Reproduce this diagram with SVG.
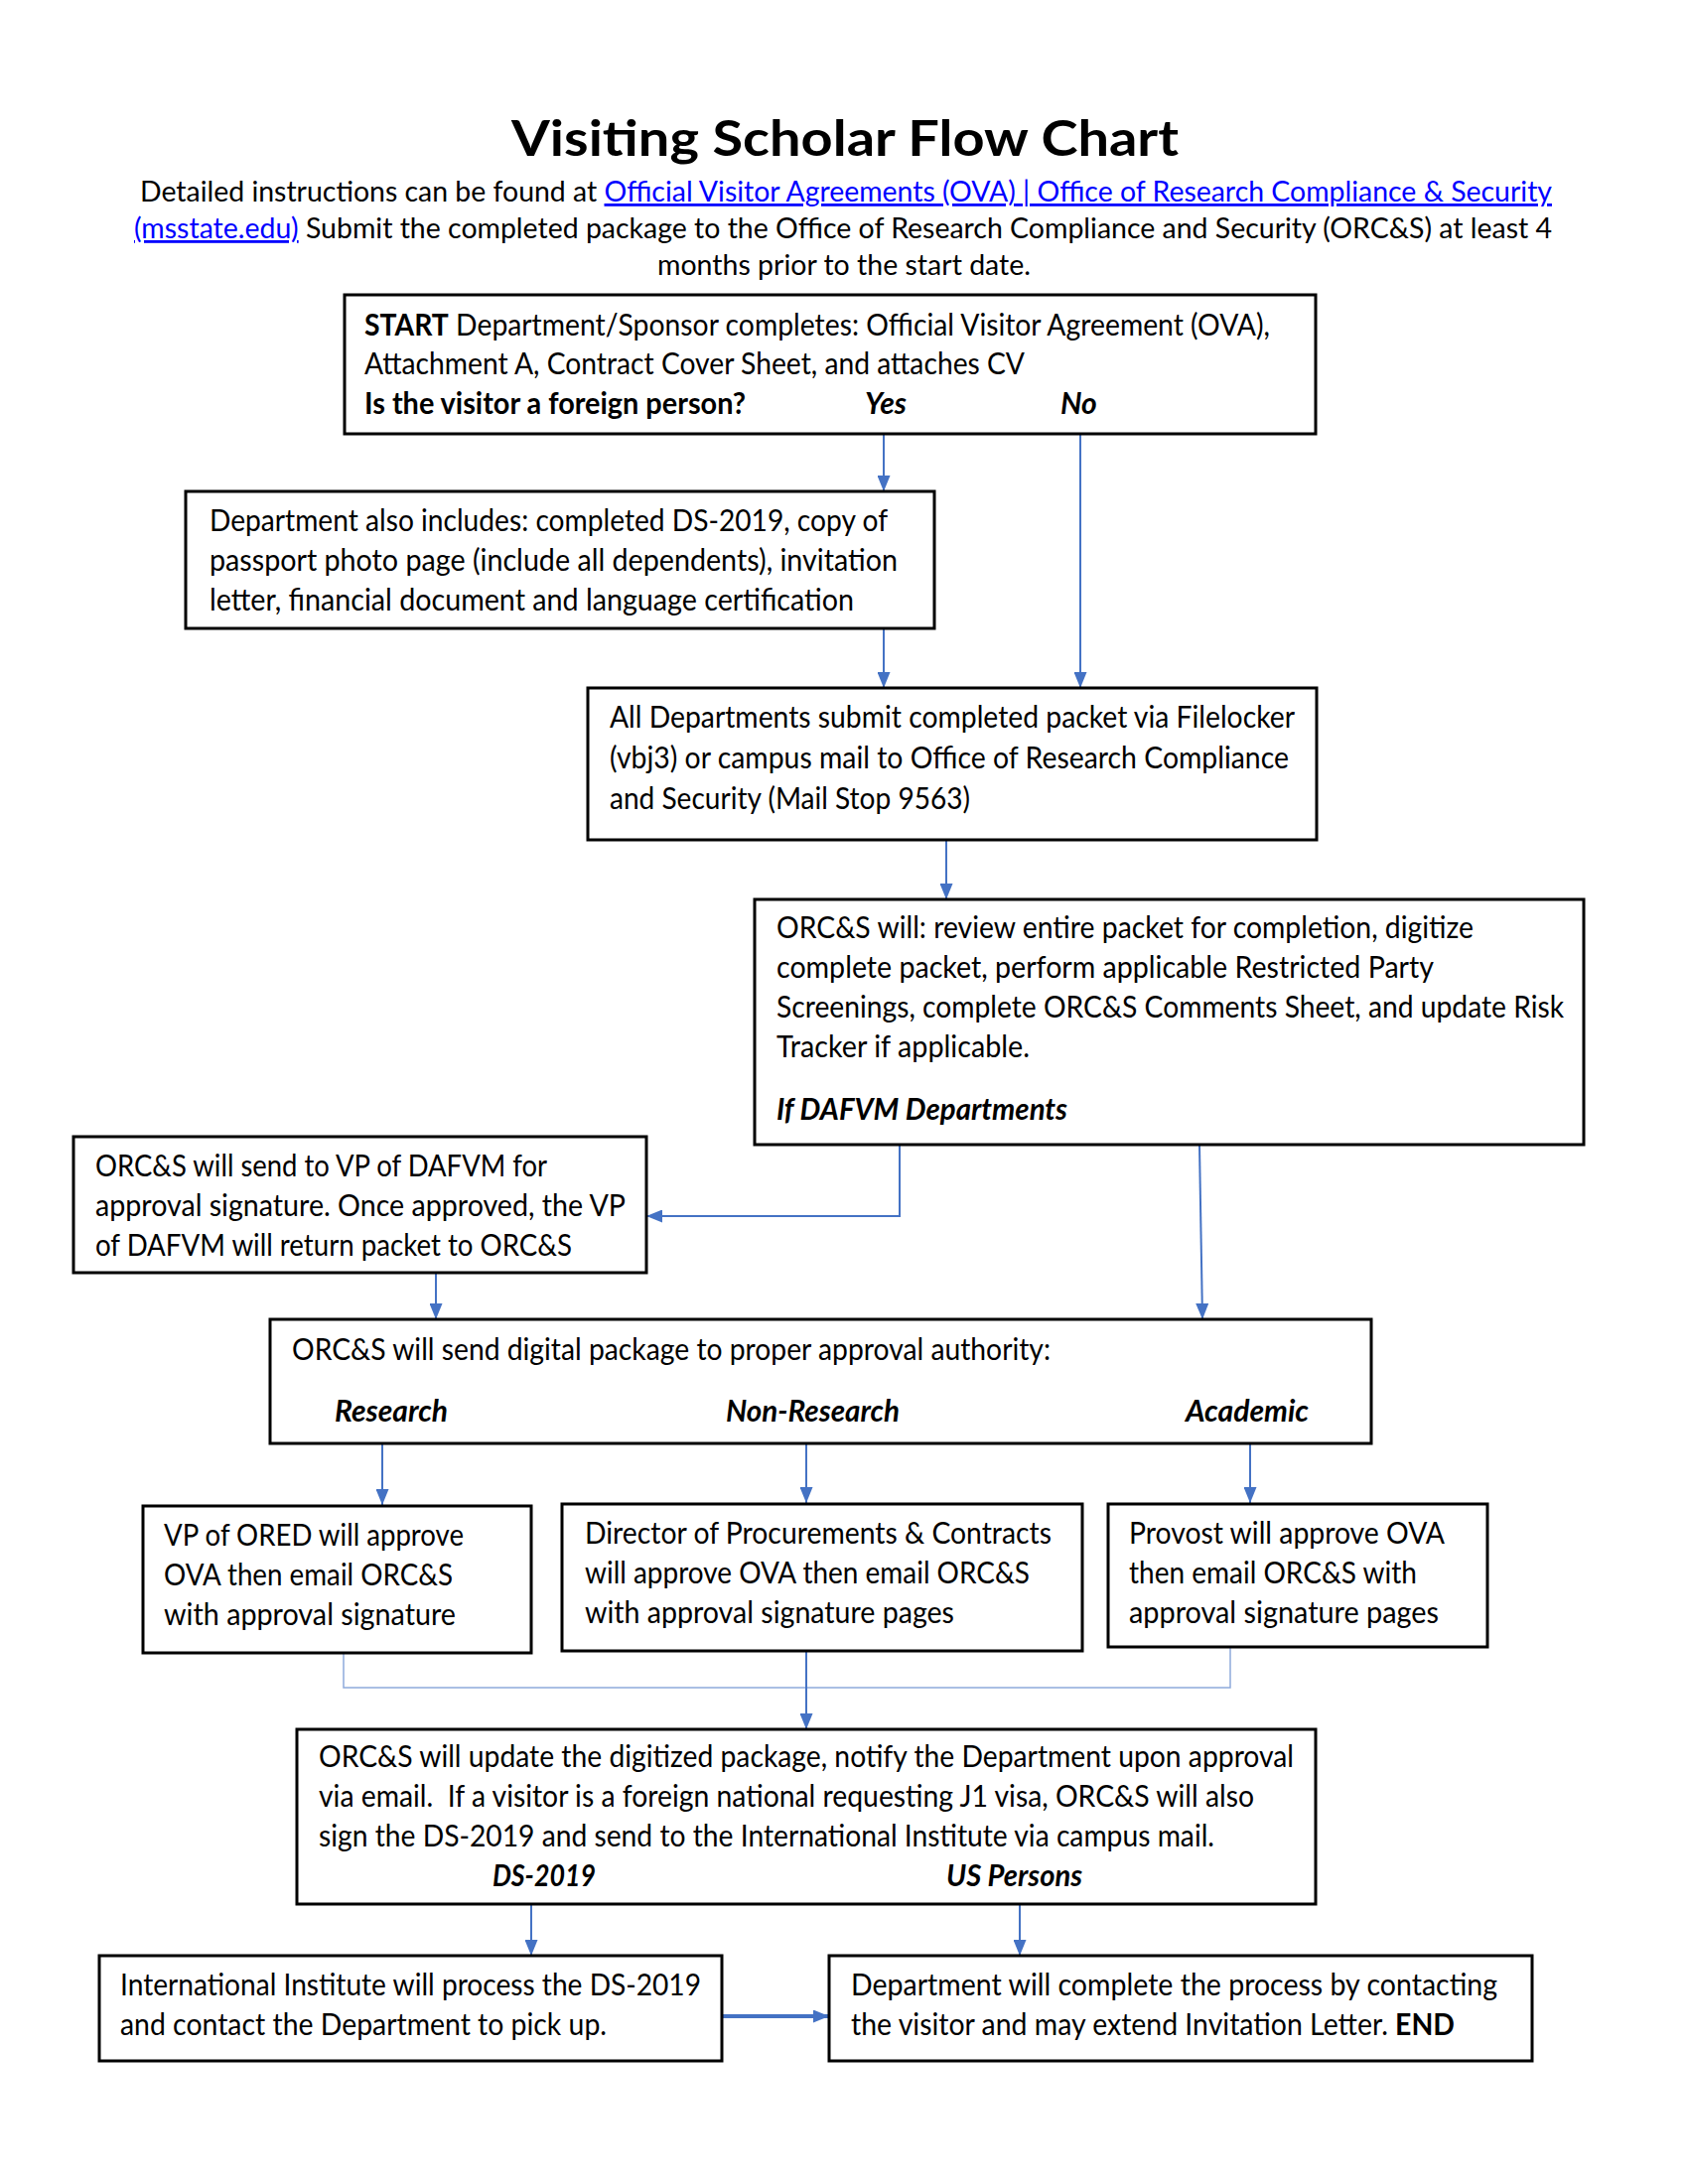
<svg xmlns="http://www.w3.org/2000/svg" width="1700" height="2200" viewBox="0 0 1700 2200">
<style>
.bx{fill:#fff;stroke:#000;stroke-width:3}
.t{font-family:Lato,"Liberation Sans",sans-serif;font-size:30px;fill:#000}
.s{font-family:Lato,"Liberation Sans",sans-serif;font-size:28px;fill:#000}
.ttl{font-family:Lato,"Liberation Sans",sans-serif;font-size:50px;font-weight:bold;fill:#000}
.b{font-weight:bold}
.bi{font-weight:bold;font-style:italic}
.lk{fill:#0000FF;text-decoration:underline}
.c{fill:none;stroke:#4472C4;stroke-width:2}
.cl{fill:none;stroke:#8FAADC;stroke-width:1.5}
.ct{fill:none;stroke:#4472C4;stroke-width:4}
</style>
<defs>
<marker id="ah" viewBox="0 0 16 13" refX="16" refY="6.5" markerWidth="16" markerHeight="13" markerUnits="userSpaceOnUse" orient="auto">
<path d="M0,0 L16,6.5 L0,13 z" fill="#4472C4"/>
</marker>
</defs>
<rect width="1700" height="2200" fill="#fff"/>
<g id="header">
<text class="ttl" x="851" y="157" text-anchor="middle" textLength="672" lengthAdjust="spacingAndGlyphs">Visiting Scholar Flow Chart</text>
<text class="s" x="141" y="203" textLength="1422" lengthAdjust="spacingAndGlyphs">Detailed instructions can be found at <tspan class="lk">Official Visitor Agreements (OVA) | Office of Research Compliance &amp; Security</tspan></text>
<text class="s" x="135" y="240" textLength="1428" lengthAdjust="spacingAndGlyphs"><tspan class="lk">(msstate.edu)</tspan> Submit the completed package to the Office of Research Compliance and Security (ORC&amp;S) at least 4</text>
<text class="s" x="850" y="277" text-anchor="middle" textLength="376" lengthAdjust="spacingAndGlyphs">months prior to the start date.</text>
</g>
<g id="connectors">
<line class="c" x1="890" y1="438" x2="890" y2="495" marker-end="url(#ah)"/>
<line class="c" x1="1088" y1="438" x2="1088" y2="693" marker-end="url(#ah)"/>
<line class="c" x1="890" y1="634" x2="890" y2="693" marker-end="url(#ah)"/>
<line class="c" x1="953" y1="847" x2="953" y2="906" marker-end="url(#ah)"/>
<polyline class="c" points="906,1154 906,1225 651,1225" marker-end="url(#ah)"/>
<line class="c" x1="1208" y1="1154" x2="1211" y2="1329" marker-end="url(#ah)"/>
<line class="c" x1="439" y1="1283" x2="439" y2="1329" marker-end="url(#ah)"/>
<line class="c" x1="385" y1="1455" x2="385" y2="1516" marker-end="url(#ah)"/>
<line class="c" x1="812" y1="1455" x2="812" y2="1514" marker-end="url(#ah)"/>
<line class="c" x1="1259" y1="1455" x2="1259" y2="1514" marker-end="url(#ah)"/>
<polyline class="cl" points="346,1666 346,1700 1239,1700 1239,1660"/>
<line class="c" x1="812" y1="1664" x2="812" y2="1742" marker-end="url(#ah)"/>
<line class="c" x1="535" y1="1919" x2="535" y2="1970" marker-end="url(#ah)"/>
<line class="c" x1="1027" y1="1919" x2="1027" y2="1970" marker-end="url(#ah)"/>
<line class="ct" x1="728" y1="2031" x2="835" y2="2031" marker-end="url(#ah)"/>
</g>
<g id="n1">
<rect class="bx" x="347" y="297" width="978" height="140"/>
<text class="t" x="367" y="338" textLength="912" lengthAdjust="spacingAndGlyphs"><tspan class="b">START</tspan> Department/Sponsor completes: Official Visitor Agreement (OVA),</text>
<text class="t" x="367" y="377" textLength="665" lengthAdjust="spacingAndGlyphs">Attachment A, Contract Cover Sheet, and attaches CV</text>
<text class="t b" x="367" y="417" textLength="384" lengthAdjust="spacingAndGlyphs">Is the visitor a foreign person?</text>
<text class="t bi" x="871" y="417">Yes</text>
<text class="t bi" x="1068" y="417">No</text>
</g>
<g id="n2">
<rect class="bx" x="187" y="495" width="754" height="138"/>
<text class="t" x="211" y="535" textLength="683" lengthAdjust="spacingAndGlyphs">Department also includes: completed DS-2019, copy of</text>
<text class="t" x="211" y="575" textLength="693" lengthAdjust="spacingAndGlyphs">passport photo page (include all dependents), invitation</text>
<text class="t" x="211" y="615" textLength="649" lengthAdjust="spacingAndGlyphs">letter, financial document and language certification</text>
</g>
<g id="n3">
<rect class="bx" x="592" y="693" width="734" height="153"/>
<text class="t" x="614" y="733" textLength="690" lengthAdjust="spacingAndGlyphs">All Departments submit completed packet via Filelocker</text>
<text class="t" x="614" y="774" textLength="684" lengthAdjust="spacingAndGlyphs">(vbj3) or campus mail to Office of Research Compliance</text>
<text class="t" x="614" y="815" textLength="363" lengthAdjust="spacingAndGlyphs">and Security (Mail Stop 9563)</text>
</g>
<g id="n4">
<rect class="bx" x="760" y="906" width="835" height="247"/>
<text class="t" x="782" y="945" textLength="702" lengthAdjust="spacingAndGlyphs">ORC&amp;S will: review entire packet for completion, digitize</text>
<text class="t" x="782" y="985" textLength="662" lengthAdjust="spacingAndGlyphs">complete packet, perform applicable Restricted Party</text>
<text class="t" x="782" y="1025" textLength="793" lengthAdjust="spacingAndGlyphs">Screenings, complete ORC&amp;S Comments Sheet, and update Risk</text>
<text class="t" x="782" y="1065" textLength="255" lengthAdjust="spacingAndGlyphs">Tracker if applicable.</text>
<text class="t bi" x="782" y="1128" textLength="293" lengthAdjust="spacingAndGlyphs">If DAFVM Departments</text>
</g>
<g id="n5">
<rect class="bx" x="74" y="1145" width="577" height="137"/>
<text class="t" x="96" y="1185" textLength="455" lengthAdjust="spacingAndGlyphs">ORC&amp;S will send to VP of DAFVM for</text>
<text class="t" x="96" y="1225" textLength="534" lengthAdjust="spacingAndGlyphs">approval signature. Once approved, the VP</text>
<text class="t" x="96" y="1265" textLength="480" lengthAdjust="spacingAndGlyphs">of DAFVM will return packet to ORC&amp;S</text>
</g>
<g id="n6">
<rect class="bx" x="272" y="1329" width="1109" height="125"/>
<text class="t" x="294" y="1370" textLength="764" lengthAdjust="spacingAndGlyphs">ORC&amp;S will send digital package to proper approval authority:</text>
<text class="t bi" x="337" y="1432" textLength="114" lengthAdjust="spacingAndGlyphs">Research</text>
<text class="t bi" x="731" y="1432" textLength="175" lengthAdjust="spacingAndGlyphs">Non-Research</text>
<text class="t bi" x="1194" y="1432" textLength="124" lengthAdjust="spacingAndGlyphs">Academic</text>
</g>
<g id="n7">
<rect class="bx" x="144" y="1517" width="391" height="148"/>
<text class="t" x="165" y="1557" textLength="302" lengthAdjust="spacingAndGlyphs">VP of ORED will approve</text>
<text class="t" x="165" y="1597" textLength="291" lengthAdjust="spacingAndGlyphs">OVA then email ORC&amp;S</text>
<text class="t" x="165" y="1637" textLength="294" lengthAdjust="spacingAndGlyphs">with approval signature</text>
</g>
<g id="n8">
<rect class="bx" x="566" y="1515" width="524" height="148"/>
<text class="t" x="589" y="1555" textLength="470" lengthAdjust="spacingAndGlyphs">Director of Procurements &amp; Contracts</text>
<text class="t" x="589" y="1595" textLength="448" lengthAdjust="spacingAndGlyphs">will approve OVA then email ORC&amp;S</text>
<text class="t" x="589" y="1635" textLength="372" lengthAdjust="spacingAndGlyphs">with approval signature pages</text>
</g>
<g id="n9">
<rect class="bx" x="1116" y="1515" width="382" height="144"/>
<text class="t" x="1137" y="1555" textLength="318" lengthAdjust="spacingAndGlyphs">Provost will approve OVA</text>
<text class="t" x="1137" y="1595" textLength="290" lengthAdjust="spacingAndGlyphs">then email ORC&amp;S with</text>
<text class="t" x="1137" y="1635" textLength="312" lengthAdjust="spacingAndGlyphs">approval signature pages</text>
</g>
<g id="n10">
<rect class="bx" x="299" y="1742" width="1026" height="176"/>
<text class="t" x="321" y="1780" textLength="982" lengthAdjust="spacingAndGlyphs">ORC&amp;S will update the digitized package, notify the Department upon approval</text>
<text class="t" x="321" y="1820" textLength="942" lengthAdjust="spacingAndGlyphs">via email.&#160; If a visitor is a foreign national requesting J1 visa, ORC&amp;S will also</text>
<text class="t" x="321" y="1860" textLength="902" lengthAdjust="spacingAndGlyphs">sign the DS-2019 and send to the International Institute via campus mail.</text>
<text class="t bi" x="496" y="1900" textLength="104" lengthAdjust="spacingAndGlyphs">DS-2019</text>
<text class="t bi" x="953" y="1900" textLength="137" lengthAdjust="spacingAndGlyphs">US Persons</text>
</g>
<g id="n11">
<rect class="bx" x="100" y="1970" width="627" height="106"/>
<text class="t" x="121" y="2010" textLength="585" lengthAdjust="spacingAndGlyphs">International Institute will process the DS-2019</text>
<text class="t" x="121" y="2050" textLength="490" lengthAdjust="spacingAndGlyphs">and contact the Department to pick up.</text>
</g>
<g id="n12">
<rect class="bx" x="835" y="1970" width="708" height="106"/>
<text class="t" x="857" y="2010" textLength="651" lengthAdjust="spacingAndGlyphs">Department will complete the process by contacting</text>
<text class="t" x="857" y="2050" textLength="608" lengthAdjust="spacingAndGlyphs">the visitor and may extend Invitation Letter. <tspan class="b">END</tspan></text>
</g>
</svg>
